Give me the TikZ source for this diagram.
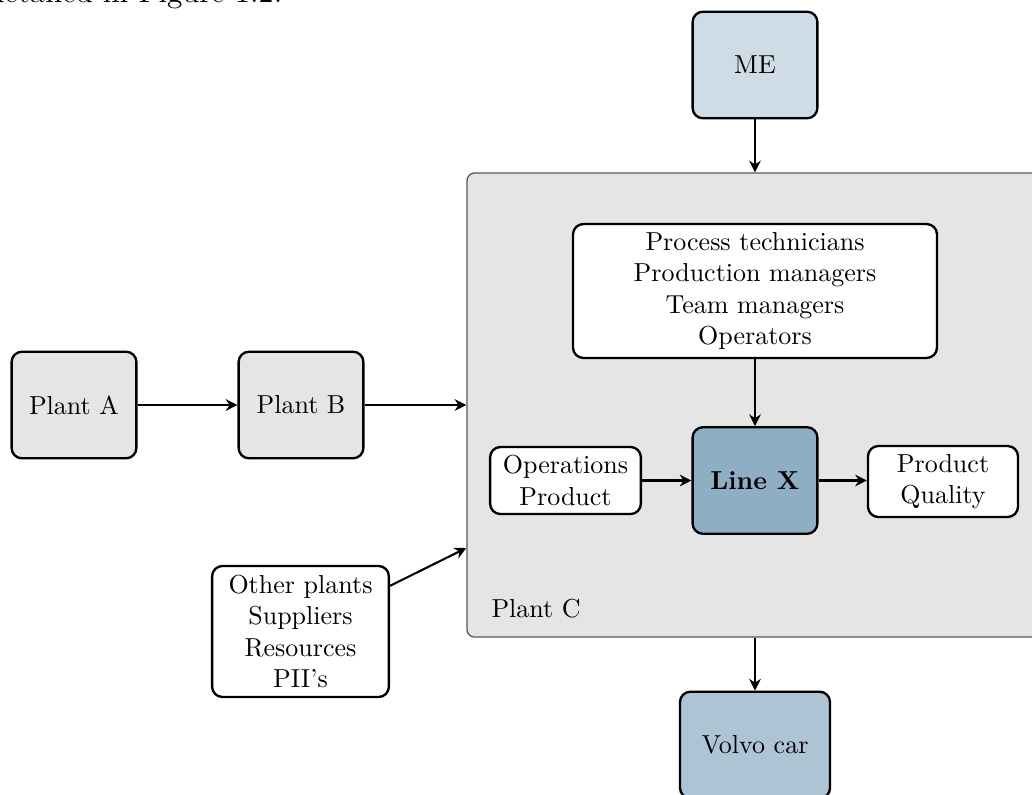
\documentclass[tikz,border=0pt]{standalone}
\usetikzlibrary{arrows.meta,calc}

\definecolor{plantgray}{HTML}{E5E5E5}
\definecolor{mecolor}{HTML}{CFDCE5}
\definecolor{linecolor}{HTML}{8EAEC4}
\definecolor{carcolor}{HTML}{ADC4D5}

\tikzset{
  box/.style={draw=black, line width=0.9pt, rounded corners=4pt, align=center,
              inner sep=2pt, minimum width=48pt, minimum height=41pt},
  whitebox/.style={box, fill=white},
  container/.style={draw=black!65, fill=plantgray, line width=0.5pt, rounded corners=3pt},
  arr/.style={line width=0.8pt, -{Stealth[length=4.5pt,width=4.5pt,inset=1.5pt]}},
}

\begin{document}
\begin{tikzpicture}[x=0.3846pt, y=-0.3846pt]
  \useasboundingbox (0,0) rectangle (1032,794);
  \clip (0,0) rectangle (1032,794);

  % running text above the figure
  \node[anchor=base east, inner sep=0pt, font=\fontsize{12}{14}\selectfont] (header) at (283,3) {detailed in Figure 1.2.};

  % the plant that holds the line
  \node[container, minimum width=243.5pt, minimum height=178.5pt] (plantC) at (783.5,405) {};
  \node[anchor=base west, inner sep=0pt] (plantClabel) at (491,617) {Plant C};

  % upstream plants
  \node[box, fill=plantgray] (plantA) at (74,405) {Plant A};
  \node[box, fill=plantgray] (plantB) at (301,405) {Plant B};

  % engineering and customer
  \node[box, fill=mecolor] (me) at (755,65) {ME};
  \node[box, fill=carcolor, minimum width=57.7pt] (volvo) at (755,745) {Volvo car};

  % inside plant C
  \node[whitebox, minimum width=140pt, minimum height=51.5pt] (staff) at (755,291)
    {Process technicians\\Production managers\\Team managers\\Operators};
  \node[box, fill=linecolor] (lineX) at (755,480.5) {\textbf{Line X}};
  \node[whitebox, minimum width=58pt, minimum height=25.8pt] (ops) at (565.5,480.5)
    {Operations\\Product};
  \node[whitebox, minimum width=57.7pt, minimum height=27.3pt] (quality) at (943,481.5)
    {Product\\Quality};

  % other inputs
  \node[whitebox, minimum width=68pt, minimum height=50.4pt] (other) at (300.5,631.5)
    {Other plants\\Suppliers\\Resources\\PII's};

  % connectors
  \draw[arr] (plantA.east) -- (plantB.west);
  \draw[arr] (plantB.east) -- (plantC.west);
  \draw[arr] (me.south) -- (me.south |- plantC.north);
  \draw[arr] (staff.south) -- (lineX.north);
  \draw[arr] (ops.east) -- (ops.east -| lineX.west);
  \draw[arr] (lineX.east) -- (lineX.east -| quality.west);
  \draw[arr] (plantC.south -| volvo.north) -- (volvo.north);
  \draw[arr] ($(other.north east)+(0,21)$) -- ($(plantC.west)+(0,143)$);
\end{tikzpicture}
\end{document}
